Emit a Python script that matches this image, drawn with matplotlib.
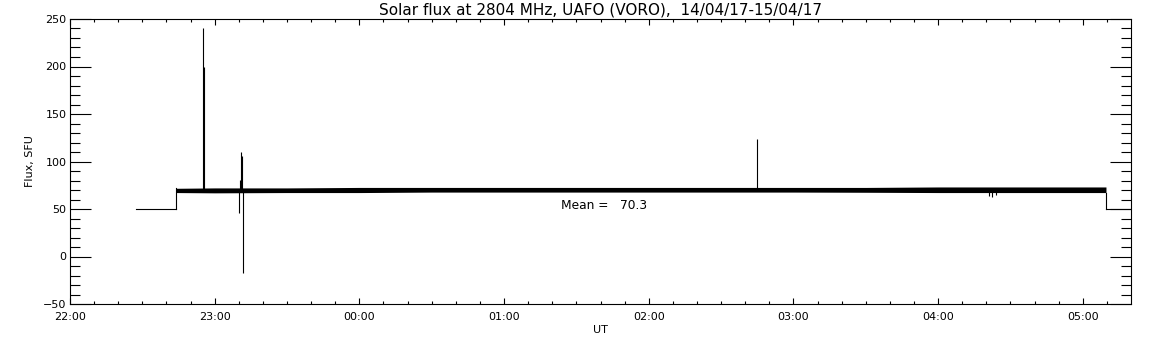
import numpy as np
import matplotlib
matplotlib.use("Agg")
import matplotlib.pyplot as plt
from matplotlib.ticker import MultipleLocator, FuncFormatter

# time is in hours after 22:00 UT (14/04/17)
pre_t = [0.456, 0.735]
pre_flux = [50.0, 50.0]

# envelope of the noisy trace
band_t = [0.735, 1.0, 1.5, 2.0, 2.5, 3.0, 3.5, 4.0, 4.5, 5.0, 5.5, 6.0, 6.5, 7.0, 7.16]
band_lo = [67.3, 67.0, 67.3, 67.3, 67.8, 67.8, 67.8, 67.8, 67.8, 67.8, 67.6, 67.3, 67.3, 67.3, 67.3]
band_hi = [71.8, 72.2, 72.2, 72.7, 72.7, 72.7, 72.7, 72.7, 72.7, 72.7, 72.7, 73.2, 73.2, 73.2, 73.2]

post_t = [7.16, 7.333]
post_flux = [50.0, 50.0]

# isolated spikes: time, bottom, top
spike_t = [0.921, 0.926, 1.168, 1.175, 1.184, 1.191, 1.194, 4.75, 6.35, 6.37, 6.40]
spike_lo = [70, 70, 46, 70, 70, 70, -17, 70, 64, 63, 65]
spike_hi = [241, 200, 70, 81, 110, 106, 70, 124, 70, 70, 70]

mean_flux = 70.3

fig = plt.figure(figsize=(11.52, 3.45), dpi=100)
ax = fig.add_axes([70 / 1152, 41 / 345, 1061 / 1152, 285 / 345])

lw = 0.8
ax.plot(pre_t, pre_flux, color="black", lw=lw)
ax.plot([pre_t[-1], pre_t[-1]], [pre_flux[-1], band_hi[0]], color="black", lw=lw)
ax.fill_between(band_t, band_lo, band_hi, color="black", lw=0)
ax.plot([post_t[0], post_t[0]], [band_lo[-1], post_flux[0]], color="black", lw=lw)
ax.plot(post_t, post_flux, color="black", lw=lw)
ax.vlines(spike_t, spike_lo, spike_hi, color="black", lw=lw)

ax.text(3.393, 53.7, "Mean =   %.1f" % mean_flux, fontsize=8.8, va="center", ha="left")

ax.set_xlim(0, 7.333)
ax.set_ylim(-50, 250)

ax.xaxis.set_major_locator(MultipleLocator(1))
ax.xaxis.set_minor_locator(MultipleLocator(1 / 6))
ax.yaxis.set_major_locator(MultipleLocator(50))
ax.yaxis.set_minor_locator(MultipleLocator(10))
ax.xaxis.set_major_formatter(FuncFormatter(lambda h, p: "%02d:00" % ((22 + int(round(h))) % 24)))

ax.tick_params(axis="both", which="both", direction="in", top=True, right=True,
               width=0.8, labelsize=8)
ax.tick_params(axis="x", which="major", length=4.1, pad=6)
ax.tick_params(axis="x", which="minor", length=2.0)
ax.tick_params(axis="y", which="major", length=15, pad=2.5)
ax.tick_params(axis="y", which="minor", length=7.5)
for s in ax.spines.values():
    s.set_linewidth(0.8)

ax.set_xlabel("UT", fontsize=8, labelpad=2)
ax.set_ylabel("Flux, SFU", fontsize=8, labelpad=6)
ax.set_title("Solar flux at 2804 MHz, UAFO (VORO),  14/04/17-15/04/17", fontsize=11, pad=3)

fig.savefig("out.png", dpi=100)
